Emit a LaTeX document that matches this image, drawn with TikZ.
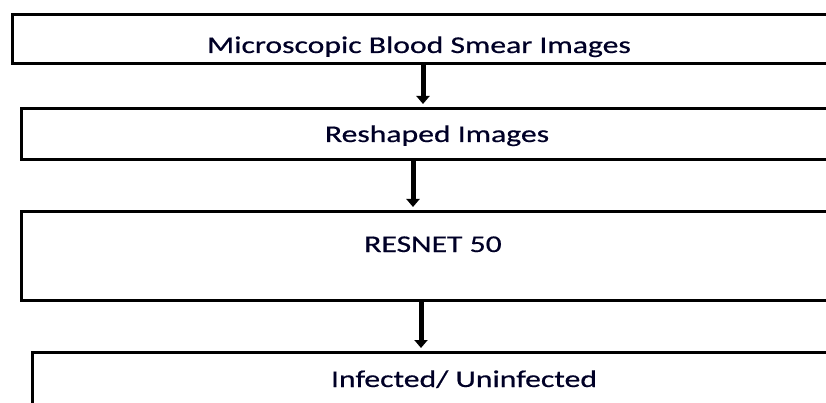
\documentclass[tikz,border=0pt]{standalone}
\usepackage{fontspec}
\setmainfont{Carlito}[FakeStretch=1.32,FakeBold=0.6]
\usetikzlibrary{arrows.meta}

\begin{document}
\begin{tikzpicture}[x=1pt,y=-1pt,
  box/.style={draw,line width=2.7pt,rectangle,inner sep=0pt,anchor=north west},
  lbl/.style={anchor=base,font=\fontsize{24}{28}\selectfont,text=black!85!blue},
  flow/.style={line width=5pt,-{Triangle[width=13pt,length=8pt]},shorten >=3pt}]
\useasboundingbox (0,0) rectangle (826,403);
\clip (0,0) rectangle (826,403);
% boxes run off the right side
\node[box,minimum width=829pt,minimum height=49pt] (b1) at (11,13) {};
\node[box,minimum width=820pt,minimum height=51pt] (b2) at (20,107) {};
\node[box,minimum width=820pt,minimum height=89pt] (b3) at (20,210) {};
\node[box,minimum width=809pt,minimum height=80pt] (b4) at (31,351) {};
\node[lbl] (t1) at (419,53) {Microscopic Blood Smear Images};
\node[lbl] (t2) at (437,142) {Reshaped Images};
\node[lbl] (t3) at (433,252) {RESNET 50};
\node[lbl] (t4) at (464,387) {Infected/ Uninfected};
\foreach \a/\b/\x in {b1/b2/423, b2/b3/413, b3/b4/421} {
\draw[flow] (\x,0 |- \a.south) -- (\x,0 |- \b.north);
}
\end{tikzpicture}
\end{document}
